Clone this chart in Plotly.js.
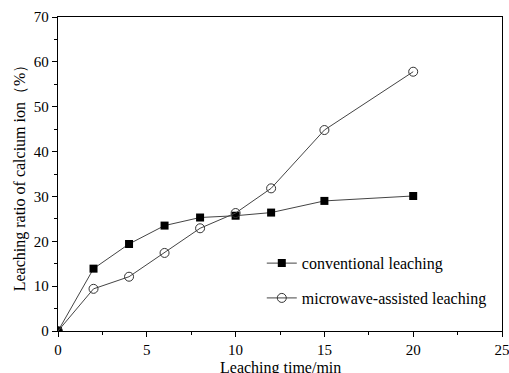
<!DOCTYPE html>
<html><head><meta charset="utf-8">
<script src="https://cdn.plot.ly/plotly-3.0.1.min.js"></script>
<style>html,body{margin:0;padding:0;background:#fff}#chart{width:509px;height:373px}</style>
</head><body><div id="chart"></div>
<script>
var timeMin = [0, 2, 4, 6, 8, 10, 12, 15, 20];
var conventional = [0, 13.9, 19.4, 23.5, 25.3, 25.7, 26.4, 29.0, 30.1];
var microwave = [0, 9.4, 12.1, 17.4, 22.9, 26.3, 31.8, 44.8, 57.8];
var seriesNames = ['conventional leaching', 'microwave-assisted leaching'];
var xTitle = 'Leaching time/min';
var yTitle = 'Leaching ratio of calcium ion（%）';

var font = {family: '"Liberation Serif", "Times New Roman", serif', size: 16, color: '#000'};
var tickFont = {family: font.family, size: 15, color: '#000'};
var traces = [
  {x: timeMin, y: conventional, name: seriesNames[0], legendgroup: 'a', mode: 'lines+markers', type: 'scatter',
   line: {color: '#444', width: 1}, marker: {symbol: 'square', size: 8, color: '#000'}},
  {x: timeMin, y: microwave, name: seriesNames[1], legendgroup: 'b', mode: 'lines+markers', type: 'scatter',
   line: {color: '#444', width: 1}, marker: {symbol: 'circle-open', size: 9, color: '#333', line: {width: 1, color: '#333'}}}
];
var axisCommon = {showgrid: false, zeroline: false, showline: true, linecolor: '#000', linewidth: 1.3,
  mirror: true, ticks: 'outside', ticklen: 5, tickwidth: 1, tickcolor: '#000', tickfont: tickFont,
  ticklabeloverflow: 'allow', automargin: false};
var layout = {
  width: 509, height: 373, margin: {l: 58, r: 7, t: 17, b: 42},
  paper_bgcolor: '#fff', plot_bgcolor: '#fff', font: font, showlegend: true,
  xaxis: Object.assign({}, axisCommon, {range: [0, 25], dtick: 5, tick0: 0,
    minor: {dtick: 2.5, ticklen: 3, tickcolor: '#000', ticks: 'outside'}}),
  yaxis: Object.assign({}, axisCommon, {range: [0, 70], dtick: 10, tick0: 0,
    minor: {dtick: 5, ticklen: 3, tickcolor: '#000', ticks: 'outside'},
    title: {text: yTitle, font: font, standoff: 4}}),
  annotations: [{text: xTitle, xref: 'paper', yref: 'paper', x: 0.5, y: -0.117,
    xanchor: 'center', yanchor: 'middle', showarrow: false, font: font}],
  legend: {x: 0.459, y: 0.27, xanchor: 'left', yanchor: 'top', bgcolor: 'rgba(0,0,0,0)',
    font: font, tracegroupgap: 11}
};
Plotly.newPlot('chart', traces, layout, {displayModeBar: false, staticPlot: true});
</script></body></html>
